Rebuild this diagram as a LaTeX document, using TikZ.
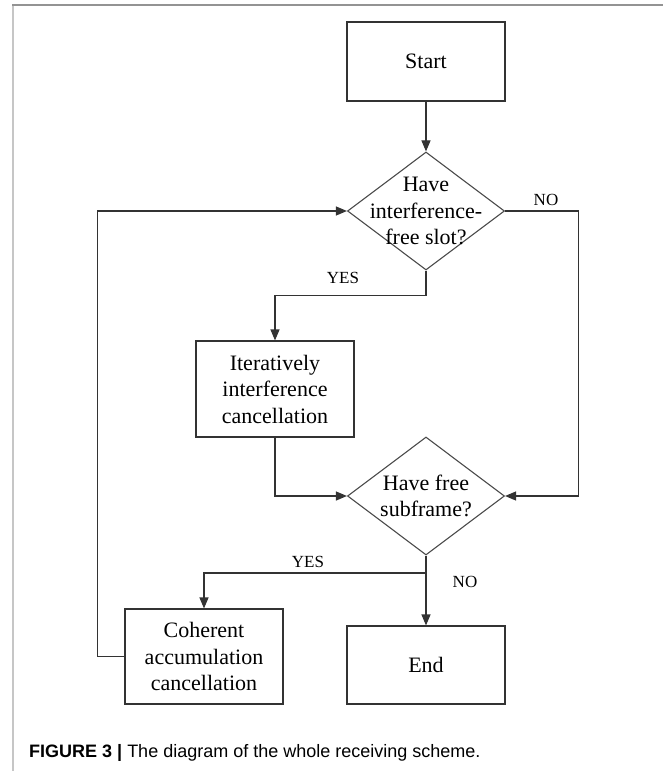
\documentclass[tikz,border=0pt]{standalone}
\usepackage{fontspec}
\setmainfont{Liberation Serif}
\newfontfamily\captionFont{Liberation Sans}
\usetikzlibrary{shapes.geometric}
\usetikzlibrary{arrows.meta}
\begin{document}
\begin{tikzpicture}[%%
  x=1pt,y=-1pt,%%
  boxStyle/.style={draw=black!80,line width=1.1pt,minimum width=158pt,inner sep=0pt,align=center,font=\fontsize{22}{26.5}\selectfont},%%
  choiceStyle/.style={draw=black!70,line width=1.1pt,shape=diamond,minimum width=157pt,minimum height=118pt,inner sep=0pt},%%
  choiceText/.style={align=center,font=\fontsize{22}{26.5}\selectfont},%%
  lineStyle/.style={-{Triangle[length=11pt,width=9pt]},black!80,line width=1.1pt},%%
  answerStyle/.style={font=\fontsize{17}{20}\selectfont},%%
]
%%
%%
\useasboundingbox (0,0) rectangle (663,771);
%% The frame of the figure.
\draw[gray!45,line width=1.5pt] (13,771) -- (13,5);
\draw[gray!85,line width=1.5pt] (12.25,5) -- (663,5);
%%
%% The boxes and the decisions.
\node[boxStyle,minimum height=79pt] (start) at (426,61.5) {Start};
\node[choiceStyle] (slot) at (426,211) {};
\node[choiceText] (slotText) at (slot.center) {Have\\interference-\\free slot?};
\node[boxStyle,minimum height=96pt] (iterative) at (275,389) {Iteratively\\interference\\cancellation};
\node[choiceStyle] (subframe) at (426,496) {};
\node[choiceText] (subframeText) at (subframe.center) {Have free\\subframe?};
\node[boxStyle,minimum height=95pt] (coherent) at (204,656.5) {Coherent\\accumulation\\cancellation};
\node[boxStyle,minimum height=78pt] (finish) at (426,665) {End};
%%
%% The answers.
\node[answerStyle] (noSlot) at (546,200) {NO};
\node[answerStyle] (yesSlot) at (343,278) {YES};
\node[answerStyle] (yesSubframe) at (308,562) {YES};
\node[answerStyle] (noSubframe) at (465,582) {NO};
%%
%% The connectors.
\coordinate (split) at (426,573);
\draw[lineStyle] (start) -- (slot);
\draw[lineStyle] (slot.south) -- ++(0,25) -| (iterative.north);
\draw[lineStyle] (iterative.south) |- (subframe.west);
\draw[lineStyle] (slot.east) -- ++(73,0) |- (subframe.east);
\draw[lineStyle] (subframe.south) -- (finish.north);
\draw[lineStyle] (split) -| (coherent.north);
\draw[lineStyle] (coherent.west) -- ++(-27,0) |- (slot.west);
%%
%% The caption.
\node[anchor=base west,inner sep=0pt,font=\captionFont\fontsize{18}{21}\selectfont] (caption) at (29,757) {\textbf{FIGURE 3} \textbf{\textbar} The diagram of the whole receiving scheme.};
\end{tikzpicture}
\end{document}
